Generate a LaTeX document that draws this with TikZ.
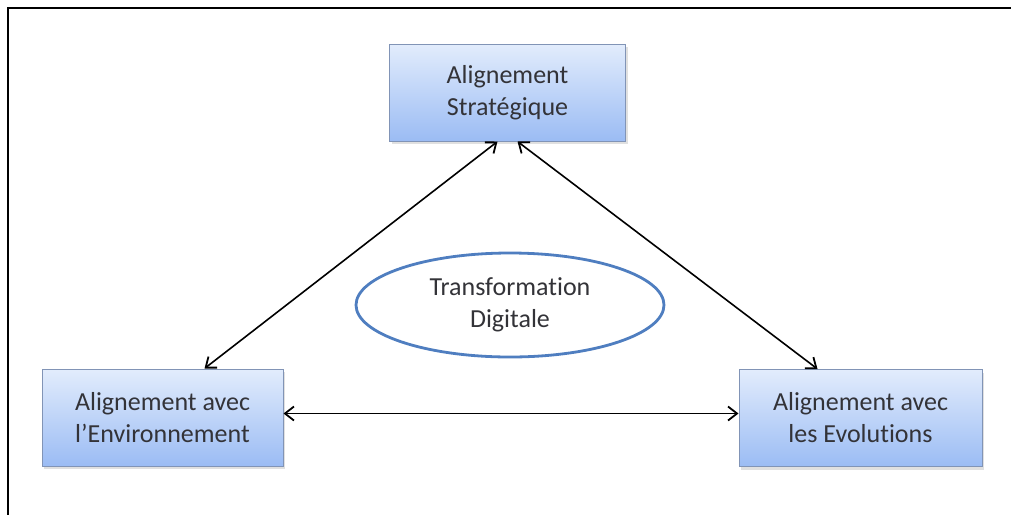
\documentclass[tikz,border=0pt]{standalone}
\usepackage{fontspec}
\setmainfont[Ligatures=NoCommon]{Carlito}
\usetikzlibrary{arrows.meta,shadows,shapes.geometric}
\definecolor{boxtop}{HTML}{E2ECFC}
\definecolor{boxbot}{HTML}{9BBCF4}
\definecolor{boxline}{HTML}{8194B6}
\definecolor{txt}{HTML}{333338}
\definecolor{ellline}{HTML}{4F7EC0}
\tikzset{
  blockbox/.style={draw=boxline, line width=1pt, top color=boxtop, bottom color=boxbot,
    minimum width=#1, minimum height=97pt, inner sep=0pt, align=center, text=txt,
    font=\fontsize{26}{32}\selectfont,
    drop shadow={shadow xshift=2pt, shadow yshift=-3pt, opacity=0.35, fill=gray!70}},
  link/.style={line width=1.6pt, {Straight Barb[length=9pt,width=14pt,line width=1.8pt]}-{Straight Barb[length=9pt,width=14pt,line width=1.8pt]}},
  frameline/.style={line width=2pt, black}
}
\begin{document}
\begin{tikzpicture}[x=1pt,y=-1pt]
\useasboundingbox (0,0) rectangle (1011,515);
\draw[frameline] (1011,8) -- (8,8) -- (8,515);
\node[blockbox=236pt] (top) at (507.5,92.5) {Alignement\\Stratégique};
\node[blockbox=241pt] (left) at (162.5,417.5) {Alignement avec\\l’Environnement};
\node[blockbox=243pt] (right) at (860.5,418) {Alignement avec\\les Evolutions};
\node[ellipse, draw=ellline, line width=2.8pt, fill=white, minimum width=308pt, minimum height=104pt,
  align=center, text=txt, font=\fontsize{26}{32}\selectfont] (ell) at (510,305) {Transformation\\Digitale};
\draw[link] ([xshift=-10pt]top.south) -- ([xshift=42pt]left.north);
\draw[link] ([xshift=10pt]top.south) -- ([xshift=-43pt]right.north);
\draw[link] ([yshift=4pt]left.east) -- ([yshift=4.5pt]right.west);
\end{tikzpicture}
\end{document}
